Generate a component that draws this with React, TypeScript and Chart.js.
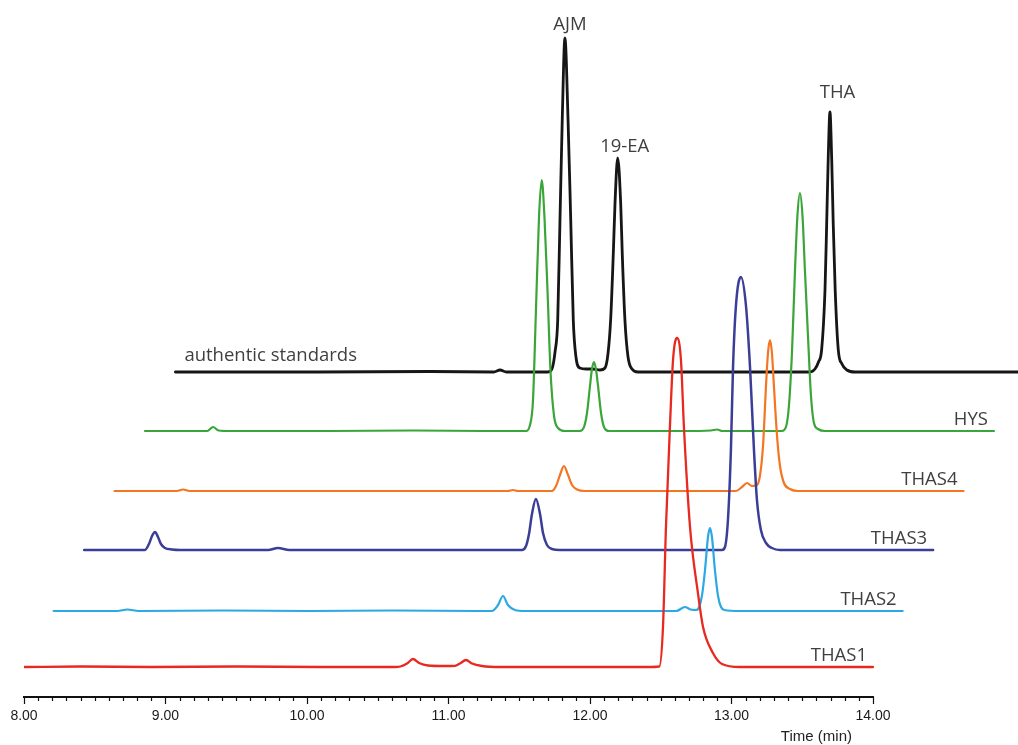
import React, { useEffect, useRef } from 'react';
import { Chart, registerables } from 'chart.js';

Chart.register(...registerables);

// ---- data (own retention time in min, signal in arbitrary units) ----
const traceNames = ['THAS1', 'THAS2', 'THAS3', 'THAS4', 'HYS', 'authentic standards'];
const xShift = [0, 0.21, 0.425, 0.64, 0.855, 1.07];
const yShift = [3.0, 8.6, 14.7, 20.6, 26.6, 32.5];

const thas1 = [
  [8.0, 0], [8.4, 0.05], [8.9, 0], [9.5, 0.05], [10.1, 0], [10.62, 0], [10.66, 0.05], [10.707, 0.35],
  [10.749, 0.8], [10.792, 0.4], [10.855, 0.15], [10.975, 0.1], [11.046, 0.12], [11.081, 0.35], [11.124, 0.7],
  [11.166, 0.35], [11.237, 0.1], [11.364, 0], [12.0, 0], [12.4, 0], [12.49, 0.05], [12.516, 4], [12.537, 14],
  [12.565, 24], [12.587, 30.7], [12.615, 32.9], [12.643, 30.7], [12.664, 24], [12.707, 14], [12.763, 7.4],
  [12.799, 4], [12.869, 1.4], [12.933, 0.3], [13.06, 0], [13.5, 0], [14.0, 0],
];
const thas2 = [
  [8.0, 0], [8.45, 0], [8.52, 0.15], [8.6, 0], [9.2, 0.05], [9.8, 0], [10.4, 0.05], [11.0, 0], [11.097, 0],
  [11.14, 0.6], [11.175, 1.5], [11.21, 0.6], [11.26, 0.1], [11.33, 0], [12.0, 0], [12.4, 0], [12.461, 0.4],
  [12.5, 0.15], [12.54, 0.1], [12.56, 0.35], [12.581, 1.5], [12.603, 4.1], [12.624, 7.4], [12.638, 8.3],
  [12.652, 7.4], [12.673, 4.1], [12.695, 1.5], [12.716, 0.4], [12.74, 0.1], [12.85, 0], [14.0, 0],
];
const thas3 = [
  [8.0, 0], [8.43, 0], [8.458, 0.6], [8.48, 1.4], [8.501, 1.8], [8.522, 1.3], [8.543, 0.6], [8.571, 0.2],
  [8.621, 0.05], [8.677, 0], [9.3, 0], [9.37, 0.2], [9.45, 0], [10.2, 0], [11.094, 0], [11.123, 0.4],
  [11.144, 1.6], [11.165, 3.6], [11.193, 5.1], [11.222, 3.6], [11.243, 1.7], [11.271, 0.5], [11.306, 0.1],
  [11.363, 0], [12.0, 0], [12.508, 0], [12.529, 0.3], [12.55, 3], [12.571, 10], [12.586, 18.3], [12.607, 24.5],
  [12.642, 27.3], [12.677, 24.5], [12.706, 18.3], [12.734, 10], [12.755, 5], [12.783, 2], [12.819, 0.7],
  [12.861, 0.2], [12.918, 0], [14.0, 0],
];
const thas4 = [
  [8.0, 0], [8.44, 0], [8.484, 0.15], [8.53, 0], [9.5, 0], [10.5, 0], [10.78, 0], [10.816, 0.1], [10.85, 0],
  [11.091, 0], [11.12, 0.5], [11.148, 1.6], [11.176, 2.5], [11.205, 1.6], [11.233, 0.6], [11.268, 0.15],
  [11.325, 0], [12.0, 0], [12.392, 0], [12.434, 0.4], [12.47, 0.8], [12.505, 0.5], [12.54, 0.6], [12.561, 1.5],
  [12.583, 4.5], [12.604, 10.5], [12.618, 13.8], [12.632, 15.1], [12.646, 13.8], [12.66, 10.5], [12.682, 5.5],
  [12.703, 2.5], [12.731, 0.8], [12.773, 0.2], [12.83, 0], [14.0, 0],
];
const hys = [
  [8.0, 0], [8.44, 0], [8.481, 0.4], [8.52, 0.05], [8.6, 0], [9.3, 0], [9.9, 0.05], [10.4, 0], [10.693, 0],
  [10.721, 0.6], [10.742, 3], [10.763, 12], [10.785, 21.5], [10.804, 25.1], [10.823, 21.5], [10.845, 14],
  [10.866, 6], [10.891, 1.5], [10.919, 0.3], [10.968, 0], [11.074, 0], [11.103, 0.4], [11.124, 1.8],
  [11.145, 4.5], [11.159, 6.2], [11.173, 6.9], [11.187, 6.2], [11.202, 4.5], [11.223, 1.8], [11.244, 0.4],
  [11.279, 0], [11.8, 0], [12.0, 0.05], [12.043, 0.15], [12.08, 0], [12.502, 0], [12.53, 0.4], [12.551, 2.5],
  [12.573, 8], [12.594, 16.1], [12.611, 21.5], [12.629, 23.8], [12.647, 21.5], [12.664, 16.1], [12.686, 9.4],
  [12.707, 3.5], [12.728, 0.8], [12.756, 0.2], [12.806, 0], [14.0, 0],
];
const standards = [
  [8.0, 0], [9.0, 0], [9.8, 0.05], [10.25, 0], [10.294, 0.2], [10.34, 0], [10.633, 0], [10.661, 0.3],
  [10.683, 2], [10.702, 5.2], [10.718, 15.2], [10.734, 25.2], [10.753, 33.4], [10.775, 25.2], [10.794, 15.2],
  [10.812, 5.2], [10.831, 1.5], [10.859, 0.4], [10.902, 0.3], [10.95, 0.3], [11.001, 0.2], [11.036, 0.4],
  [11.057, 1.8], [11.076, 5.2], [11.095, 11.9], [11.107, 16.9], [11.126, 21.4], [11.147, 16.9], [11.158, 11.9],
  [11.177, 5.2], [11.199, 1.5], [11.227, 0.3], [11.269, 0], [12.0, 0], [12.485, 0], [12.52, 0.3], [12.545, 1],
  [12.567, 2.2], [12.591, 8.2], [12.603, 14.9], [12.614, 21.5], [12.626, 26], [12.638, 21.5], [12.649, 14.9],
  [12.663, 8.2], [12.685, 2.2], [12.711, 0.8], [12.746, 0.2], [12.803, 0], [13.5, 0], [14.0, 0],
];
const traces = [thas1, thas2, thas3, thas4, hys, standards];

const peakLabels = ['AJM', '19-EA', 'THA'];
const peakTimes = [10.753, 11.126, 12.626];

const xTickValues = [8, 9, 10, 11, 12, 13, 14];
const xTickLabels = ['8.00', '9.00', '10.00', '11.00', '12.00', '13.00', '14.00'];
const xMinorStep = 0.1;
const xTitle = 'Time (min)';

// ---- styles ----
const colors = ['#e8291f', '#2ca8e2', '#3b3e97', '#f47522', '#3aa63a', '#161616'];
const lineWidths = [2.3, 2.2, 2.5, 2.2, 2.2, 2.8];
const peakLabelOffsets = [[5, 8], [7, 6], [7.5, 14]];
const labelFont = '18.5px "Open Sans", "Noto Sans", sans-serif';
const labelColor = '#3f3f3f';
const titleFont = '15px "Liberation Sans", Arial, sans-serif';

const annotate = {
  id: 'annotate',
  afterDraw(chart: any) {
    const { ctx, scales } = chart;
    const x = scales.x;
    const y = scales.y;
    ctx.save();
    // axis line and ticks
    const y0 = x.top;
    const first = xTickValues[0];
    const last = xTickValues[xTickValues.length - 1];
    ctx.strokeStyle = '#111';
    ctx.lineWidth = 2;
    ctx.beginPath();
    ctx.moveTo(x.getPixelForValue(first) - 1, y0);
    ctx.lineTo(x.getPixelForValue(last) + 1, y0);
    ctx.stroke();
    ctx.lineWidth = 1.2;
    ctx.beginPath();
    const n = Math.round((last - first) / xMinorStep);
    for (let k = 0; k <= n; k++) {
      const v = first + k * xMinorStep;
      const px = Math.round(x.getPixelForValue(v)) + 0.5;
      const major = k % 10 === 0;
      ctx.moveTo(px, y0);
      ctx.lineTo(px, y0 + (major ? 7 : 4));
    }
    ctx.stroke();
    // axis title
    ctx.font = titleFont;
    ctx.fillStyle = '#222';
    ctx.textAlign = 'right';
    ctx.textBaseline = 'middle';
    ctx.fillText(xTitle, x.getPixelForValue(last) - 21, y0 + 40);

    // trace labels
    ctx.font = labelFont;
    ctx.fillStyle = labelColor;
    ctx.textBaseline = 'alphabetic';
    traces.forEach((tr, i) => {
      const base = y.getPixelForValue(yShift[i]);
      if (i === traces.length - 1) {
        ctx.textAlign = 'left';
        ctx.fillText(traceNames[i], x.getPixelForValue(tr[0][0] + xShift[i]) + 9, base - 11);
      } else {
        ctx.textAlign = 'right';
        ctx.fillText(traceNames[i], x.getPixelForValue(tr[tr.length - 1][0] + xShift[i]) - 6, base - 6.5);
      }
    });

    // peak labels on standards trace
    const si = traces.length - 1;
    ctx.textAlign = 'center';
    peakLabels.forEach((lab, j) => {
      let best = standards[0];
      standards.forEach((p) => {
        if (Math.abs(p[0] - peakTimes[j]) < Math.abs(best[0] - peakTimes[j])) best = p;
      });
      const px = x.getPixelForValue(best[0] + xShift[si]) + peakLabelOffsets[j][0];
      const py = y.getPixelForValue(best[1] + yShift[si]) - peakLabelOffsets[j][1];
      ctx.fillText(lab, px, py);
    });
    ctx.restore();
  },
};

export default function App() {
  const ref = useRef<HTMLCanvasElement>(null);
  useEffect(() => {
    const chart = new Chart(ref.current as HTMLCanvasElement, {
      type: 'line',
      data: {
        datasets: traces.map((tr, i) => ({
          label: traceNames[i],
          data: tr.map(([t, v]) => ({ x: t + xShift[i], y: v + yShift[i] })),
          borderColor: colors[i],
          borderWidth: lineWidths[i],
          pointRadius: 0,
          fill: false,
          cubicInterpolationMode: 'monotone' as const,
          borderJoinStyle: 'round' as const,
          borderCapStyle: 'round' as const,
        })),
      },
      options: {
        animation: false,
        responsive: false,
        layout: { padding: { left: 24, right: 0, top: 7, bottom: 8 } },
        plugins: { legend: { display: false }, tooltip: { enabled: false } },
        scales: {
          x: {
            type: 'linear',
            min: 8,
            max: 15.025,
            grid: { display: false, drawTicks: false },
            border: { display: false },
            afterBuildTicks: (s: any) => {
              s.ticks = xTickValues.map((v) => ({ value: v }));
            },
            afterFit: (s: any) => {
              s.height = 40;
              s.paddingLeft = 0;
              s.paddingRight = 0;
            },
            ticks: {
              autoSkip: false,
              maxRotation: 0,
              padding: 11,
              color: '#1a1a1a',
              font: { family: '"Liberation Sans", Arial, sans-serif', size: 14 },
              callback: (_v: any, i: number) => xTickLabels[i],
            },
          },
          y: { display: false, min: 0, max: 69 },
        },
      },
      plugins: [annotate],
    } as any);
    return () => chart.destroy();
  }, []);
  return (
    <div style={{ position: 'fixed', left: 0, top: 0, width: 1018, height: 745, background: '#fff' }}>
      <canvas ref={ref} width={1018} height={745} style={{ display: 'block' }} />
    </div>
  );
}
